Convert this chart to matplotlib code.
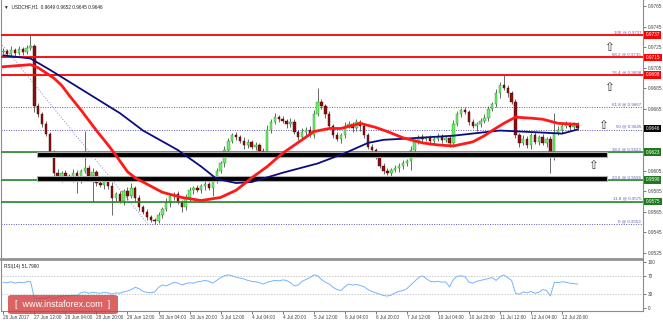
"""
USDCHF H1 chart with fibonacci levels, moving averages and RSI(14)
"""

import numpy as np
import matplotlib.pyplot as plt
from matplotlib.patches import Rectangle, FancyBboxPatch
from matplotlib.transforms import blended_transform_factory

W, H = 663, 322

# 2-hour candles, prices in pips (x 0.0001)
first_open = 9720
closes = [
    9721, 9718, 9722, 9719, 9723, 9720, 9724, 9726, 9668, 9660,
    9650, 9641, 9622, 9603, 9598, 9603, 9600, 9597, 9603, 9596,
    9605, 9608, 9600, 9604, 9593, 9591, 9594, 9590, 9578, 9582,
    9576, 9585, 9580, 9588, 9578, 9570, 9565, 9560, 9557, 9556,
    9562, 9568, 9574, 9580, 9582, 9575, 9570, 9578, 9586, 9588,
    9586, 9590, 9592, 9588, 9596, 9605, 9612, 9625, 9634, 9640,
    9638, 9634, 9630, 9633, 9628, 9630, 9624, 9622, 9645, 9652,
    9657, 9655, 9653, 9650, 9652, 9643, 9638, 9643, 9645, 9640,
    9660, 9672, 9668, 9660, 9648, 9640, 9636, 9640, 9648, 9650,
    9646, 9652, 9648, 9640, 9628, 9625, 9620, 9610, 9605, 9603,
    9606, 9608, 9610, 9612, 9614, 9625, 9633, 9638, 9636, 9637,
    9634, 9636, 9638, 9635, 9637, 9632, 9650, 9660, 9664, 9662,
    9652, 9648, 9650, 9653, 9656, 9665, 9670, 9680, 9688, 9685,
    9680, 9672, 9640, 9632, 9636, 9630, 9640, 9633, 9638, 9632,
    9636, 9618, 9642, 9645, 9648, 9650, 9647, 9649, 9646,
]
wick_up = [
    3, 2, 4, 2, 3, 2, 3, 11, 2, 3,
    2, 3, 2, 3, 4, 2, 3, 2, 4, 3,
    2, 36, 3, 4, 2, 3, 2, 3, 4, 2,
    3, 2, 4, 5, 2, 3, 2, 3, 2, 2,
    3, 2, 4, 3, 2, 3, 2, 4, 3, 2,
    3, 2, 3, 2, 4, 3, 2, 4, 3, 2,
    3, 2, 4, 3, 2, 3, 2, 3, 4, 3,
    4, 2, 3, 2, 4, 3, 2, 3, 2, 3,
    4, 13, 3, 2, 3, 2, 3, 2, 4, 3,
    2, 3, 2, 3, 2, 3, 2, 3, 2, 3,
    2, 3, 2, 3, 2, 4, 3, 2, 3, 2,
    3, 2, 4, 3, 2, 3, 4, 3, 2, 3,
    2, 3, 2, 3, 4, 3, 2, 4, 3, 10,
    3, 2, 3, 2, 4, 3, 2, 3, 2, 3,
    2, 3, 19, 3, 2, 3, 2, 3, 3,
]
wick_dn = [
    2, 3, 2, 4, 2, 3, 2, 2, 6, 3,
    3, 2, 4, 3, 2, 4, 3, 2, 3, 13,
    3, 2, 4, 25, 3, 2, 4, 3, 16, 3,
    2, 4, 3, 2, 3, 4, 2, 3, 2, 3,
    2, 3, 2, 4, 3, 2, 5, 3, 2, 4,
    2, 3, 4, 2, 8, 3, 2, 3, 4, 2,
    3, 2, 4, 3, 2, 3, 2, 3, 2, 3,
    2, 3, 2, 4, 3, 2, 3, 2, 4, 2,
    3, 2, 3, 4, 2, 3, 2, 4, 3, 2,
    3, 2, 4, 3, 2, 3, 4, 2, 3, 2,
    3, 2, 4, 3, 2, 8, 3, 2, 3, 2,
    4, 3, 2, 3, 2, 4, 3, 2, 3, 2,
    3, 2, 4, 3, 2, 3, 2, 3, 4, 2,
    3, 2, 3, 4, 2, 3, 4, 2, 3, 2,
    4, 15, 3, 2, 3, 2, 3, 2, 1,
]

# moving averages sampled at candle indices
red_ma_idx = [0, 7, 9, 11, 13, 15, 17, 20, 22, 24, 27, 29, 32, 34, 36, 38, 41, 46,
              51, 56, 60, 64, 68, 72, 77, 80, 84, 87, 92, 96, 99, 103, 108, 112,
              116, 121, 124, 126, 129, 132, 136, 139, 143, 148]
red_ma = [9706, 9708, 9705, 9700, 9695, 9688, 9678, 9664, 9654, 9644, 9630, 9620,
          9604, 9598, 9594, 9590, 9584, 9579, 9576, 9579, 9586, 9598, 9609, 9622,
          9635, 9643, 9646, 9646, 9651, 9647, 9643, 9637, 9632, 9630, 9629, 9633,
          9639, 9644, 9651, 9657, 9656, 9655, 9651, 9650]
blue_ma_idx = [0, 7, 12, 21, 30, 36, 45, 51, 55, 60, 64, 72, 81, 88, 94, 98, 103,
               116, 128, 139, 144, 148]
blue_ma = [9717, 9714, 9703, 9682, 9661, 9644, 9625, 9609, 9597, 9593, 9594, 9603,
           9612, 9622, 9632, 9635, 9636, 9639, 9644, 9642, 9641, 9645]

rsi = [
    56, 55, 57, 54, 56, 55, 57, 58, 22, 20,
    22, 21, 24, 20, 23, 25, 27, 26, 28, 27,
    33, 35, 32, 34, 33, 32, 34, 33, 30, 33,
    32, 35, 37, 40, 45, 42, 36, 34, 33, 35,
    45, 50, 48, 52, 56, 54, 50, 53, 55, 54,
    57, 58, 60, 58, 54, 60, 66, 70, 72, 70,
    67, 65, 63, 60, 58, 57, 55, 52, 56, 58,
    60, 59, 61, 60, 55, 48, 50, 58, 62, 66,
    72, 70, 62, 56, 52, 45, 40, 38, 46, 52,
    50, 51, 49, 46, 40, 36, 33, 30, 27, 26,
    28, 33, 36, 38, 42, 50, 58, 66, 70, 64,
    58, 57, 58, 56, 57, 46, 62, 69, 70, 68,
    56, 54, 58, 60, 62, 64, 66, 60, 68, 72,
    66, 60, 32, 30, 35, 33, 36, 32, 34, 40,
    38, 26, 56, 55, 57, 56, 54, 53, 52,
]

fib_pct = ['100', '88.2', '76.4', '61.8', '50', '38.2', '23.6', '11.8', '0']
fib_price = [0.9737, 0.9715, 0.9698, 0.9667, 0.9645, 0.9623, 0.9596, 0.9575, 0.9553]
red_levels = [0.9737, 0.9715, 0.9698]
green_levels = [0.9623, 0.9596, 0.9575]
bands = [(0.9618, 0.9623), (0.9595, 0.9600)]
last_price = 0.9646

price_ticks = [0.9765, 0.9745, 0.9725, 0.9705, 0.9685, 0.9665,
               0.9605, 0.9585, 0.9565, 0.9545, 0.9525]
date_labels = ['26 Jun 2017', '27 Jun 12:00', '28 Jun 04:00', '28 Jun 20:00',
               '29 Jun 12:00', '30 Jun 04:00', '30 Jun 20:00', '3 Jul 12:00',
               '4 Jul 04:00', '4 Jul 20:00', '5 Jul 12:00', '6 Jul 04:00',
               '6 Jul 20:00', '7 Jul 12:00', '10 Jul 04:00', '10 Jul 20:00',
               '11 Jul 12:00', '12 Jul 04:00', '12 Jul 20:00']

FONT = 'Liberation Sans'
FS = 3.4
FIB_BLUE = '#5a5ab4'


def px_axes(fig, x0, y0, x1, y1):
    """Add axes from pixel box (top-left origin)"""
    return fig.add_axes([x0 / W, 1 - y1 / H, (x1 - x0) / W, (y1 - y0) / H])


fig = plt.figure(figsize=(W / 100, H / 100), dpi=100)
fig.patch.set_facecolor('white')

main = px_axes(fig, 1, 0, 643, 258.5)
rsi_ax = px_axes(fig, 1, 260, 643, 311)

xlim = (-0.6, -0.6 + 642 / 3.88)
for a in (main, rsi_ax):
    a.set_xlim(*xlim)
    a.set_facecolor('white')
    for s in a.spines.values():
        s.set_color('#8c8c8c')
        s.set_linewidth(0.8)
main.set_ylim(0.95197, 0.97708)
main.spines['top'].set_visible(False)
main.spines['bottom'].set_linewidth(1.2)
rsi_ax.spines['top'].set_linewidth(1.2)
rsi_ax.set_ylim(-6.52, 104.35)

# candles
idx = np.arange(len(closes))
c = np.array(closes) / 1e4
o = np.r_[first_open, closes[:-1]] / 1e4
hi = np.maximum(o, c) + np.array(wick_up) / 1e4
lo = np.minimum(o, c) - np.array(wick_dn) / 1e4
up = c >= o
main.vlines(idx, lo, hi, color='#505050', lw=0.6, zorder=3)
main.bar(idx[up], np.maximum((c - o)[up], 0.00008), bottom=o[up], width=0.62,
         color='#6af06a', edgecolor='#2a8a2a', lw=0.3, zorder=4)
main.bar(idx[~up], (o - c)[~up], bottom=c[~up], width=0.62,
         color='#8b1010', edgecolor='#4a0000', lw=0.3, zorder=4)

# fibonacci dotted levels and labels
bt = blended_transform_factory(main.transAxes, main.transData)
for pct, p in zip(fib_pct, fib_price):
    main.axhline(p, color=FIB_BLUE, lw=0.7, ls=(0, (1, 1.5)), zorder=1)
    main.text(0.997, p + 0.00008, f'{pct} @ {p:.4f}', transform=bt, ha='right',
              va='bottom', fontsize=3.2, color=FIB_BLUE, family=FONT, zorder=7)

# fib trend line
main.plot([-2.4, 37.3], [fib_price[0], fib_price[-1]], color='#8a8ad0', lw=0.7,
          ls=(0, (1, 1.8)), zorder=2)

# support / resistance lines
for p in red_levels:
    main.axhline(p, color='#ff1010', lw=1.4, zorder=5)
for p in green_levels:
    main.axhline(p, color='#2a8a2a', lw=1.2, zorder=5)
for b0, b1 in bands:
    main.add_patch(Rectangle((8.7, b0), 155.6 - 8.7, b1 - b0, facecolor='black',
                             edgecolor='#b0b0b0', lw=0.8, zorder=5))

# moving averages
main.plot(blue_ma_idx, np.array(blue_ma) / 1e4, color='#0c0c80', lw=1.3, zorder=6,
          solid_joinstyle='round')
main.plot(red_ma_idx, np.array(red_ma) / 1e4, color='#ff1a1a', lw=2.0, zorder=6,
          solid_joinstyle='round')

# arrows
for ax_x, ax_p in [(156.1, 0.9725), (156.1, 0.9686), (154.6, 0.9649), (152.0, 0.9610)]:
    main.text(ax_x, ax_p, '\u21e7', fontsize=8.5, ha='center', va='center',
              color='#333333', family='DejaVu Sans', zorder=8)

# right price axis
main.yaxis.tick_right()
main.set_yticks(price_ticks)
main.set_yticklabels([f'{p:.4f}' for p in price_ticks])
main.tick_params(axis='y', length=2, width=0.5, pad=1.5, labelsize=FS,
                 colors='#444444', labelfontfamily=FONT)
main.set_xticks([])

boxes = [(p, '#ff0000') for p in red_levels] + [(last_price, '#000000')] + \
        [(p, '#1f7a1f') for p in green_levels]
for p, col in boxes:
    main.text(1.004, p, f'{p:.4f}', transform=bt, ha='left', va='center',
              fontsize=FS, color='white', family=FONT, clip_on=False, zorder=9,
              bbox=dict(boxstyle='square,pad=0.3', fc=col, ec='none'))

# title
main.text(0.004, 0.985, '\u25bc  USDCHF,H1  0.9649 0.9652 0.9645 0.9646',
          transform=main.transAxes, ha='left', va='top', fontsize=FS,
          color='#222222', family=[FONT, 'DejaVu Sans'])

# RSI panel
rsi_ax.plot(idx, rsi, color='#78b4ff', lw=0.7, zorder=3)
for lvl in (70, 30):
    rsi_ax.axhline(lvl, color='#b4b4b4', lw=0.5, ls=(0, (2, 2)), zorder=1)
rsi_ax.yaxis.tick_right()
rsi_ax.set_yticks([100, 70, 30, 0])
rsi_ax.set_yticklabels(['100', '70', '30', '0'])
rsi_ax.tick_params(axis='y', length=2, width=0.5, pad=1.5, labelsize=FS,
                   colors='#444444', labelfontfamily=FONT)
rsi_ax.text(0.004, 0.93, 'RSI(14) 51.7990', transform=rsi_ax.transAxes,
            ha='left', va='top', fontsize=FS, color='#222222', family=FONT)

rsi_ax.set_xticks(np.arange(len(date_labels)) * 8)
rsi_ax.set_xticklabels(date_labels)
rsi_ax.tick_params(axis='x', length=2, width=0.5, pad=1, labelsize=FS,
                   colors='#444444', labelfontfamily=FONT)
for lab in rsi_ax.get_xticklabels():
    lab.set_horizontalalignment('left')

# watermark
wm = FancyBboxPatch((8 / W, 1 - 314 / H), 110 / W, 19 / H,
                    boxstyle='round,pad=0,rounding_size=0.006',
                    transform=fig.transFigure, facecolor='#d23c3c',
                    edgecolor='none', alpha=0.8, zorder=10)
fig.patches.append(wm)
fig.text(63 / W, 1 - 304.5 / H, '[  www.instaforex.com  ]', ha='center',
         va='center', fontsize=6.5, color='white', family=FONT, zorder=11)

fig.savefig('out.png', dpi=100)
